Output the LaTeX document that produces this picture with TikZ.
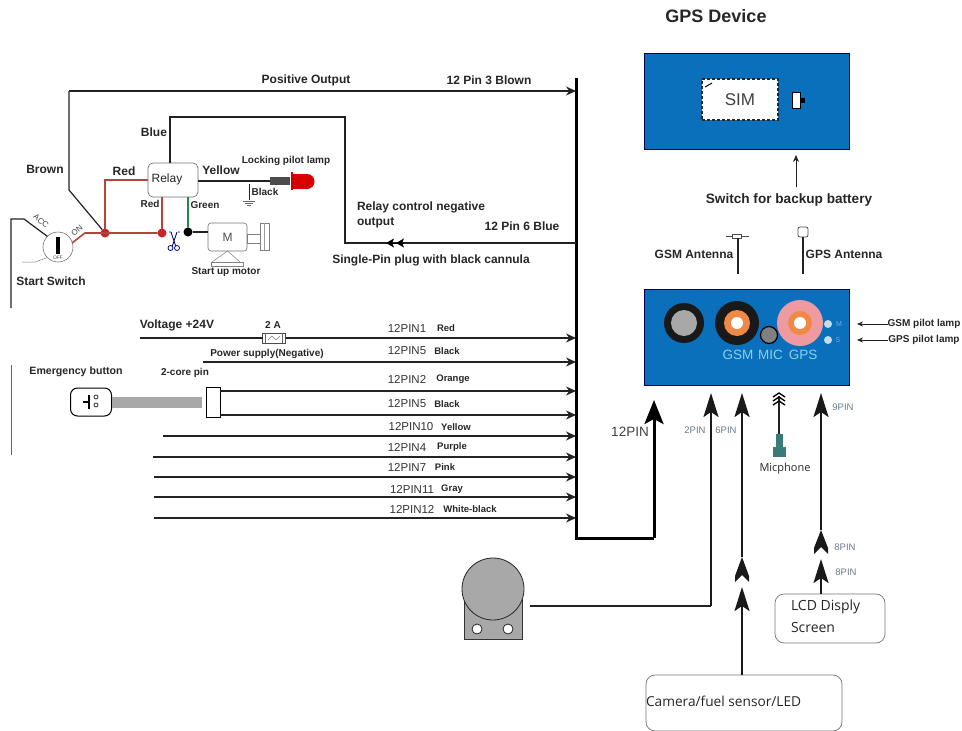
\documentclass[tikz,border=0pt]{standalone}
\usepackage{fontspec}
\setmainfont{Liberation Sans}
\newfontfamily\uifont{Open Sans}
\usetikzlibrary{arrows.meta,calc}
\definecolor{devblue}{HTML}{0A70BC}
\definecolor{wire}{HTML}{222222}
\definecolor{redwire}{HTML}{B5443A}
\definecolor{dotred}{HTML}{C8252B}
\definecolor{greenwire}{HTML}{1E8A4E}
\definecolor{midgray}{HTML}{A8A8A8}
\definecolor{pinkc}{HTML}{EF9AA0}
\definecolor{orangec}{HTML}{EE8A45}
\definecolor{ledc}{HTML}{C4DCEC}
\definecolor{cyantxt}{HTML}{8CD0E8}
\definecolor{pintxt}{HTML}{667C8C}
\definecolor{teal2}{HTML}{3A7A78}
\tikzset{
  every node/.style={inner sep=0pt,outer sep=0pt},
  lb/.style={font=\fontsize{12}{14}\selectfont\bfseries,text=black!85},
  lbs/.style={font=\fontsize{10}{12}\selectfont\bfseries,text=black!85},
  rowb/.style={font=\fontsize{9.5}{11}\selectfont\bfseries,text=black!85},
  pinl/.style={font=\fontsize{11.5}{13}\selectfont,text=black!80},
  pint/.style={font=\fontsize{9.5}{11}\selectfont,text=pintxt},
  wiret/.style={wire,line width=1.2pt},
  feed/.style={wire,line width=1.2pt,-{Stealth[length=10pt,width=9pt]}},
  bigup/.style={black!90,line width=2.2pt,-{Stealth[length=24pt,width=15pt,inset=5pt]}},
  devbox/.style={draw=black!70!blue,fill=devblue,line width=1pt,minimum width=205pt,minimum height=96pt},
  softbox/.style={draw=black!55,rounded corners=9pt,line width=.7pt},
  dot/.style={circle,minimum size=#1},
}
\begin{document}
\begin{tikzpicture}[x=1pt,y=-1pt]
\useasboundingbox (0,0) rectangle (962,731);
% ---- title and devices
\node[font=\fontsize{18}{20}\selectfont\bfseries,text=black!85] (title) at (716,16) {GPS Device};
\node[devbox] (top) at (746.5,101.5) {};
\node[draw=black!85,densely dashed,line width=1.3pt,fill=white,minimum width=76pt,minimum height=41pt,font=\fontsize{17}{20}\selectfont,text=black!75] (sim) at (740,99.5) {SIM};
\draw[black,line width=1pt] (705,87) -- (712,83);
\node[draw=black,fill=white,line width=.8pt,minimum width=8pt,minimum height=16pt] (sw) at (796,100) {};
\fill[black] (sw.east) ++(0,-2.5) rectangle ++(5,5);
\node[font=\fontsize{13.6}{16}\selectfont\bfseries,text=black!85] (swtxt) at (789,200) {Switch for backup battery};
\coordinate (swtail) at (796,187);
\draw[wire,line width=1pt,-{Stealth[length=7pt,width=6pt]}] (swtail) -- (swtail |- 0,155);
\node[devbox] (dev) at (746.5,337) {};
% connectors on device
\fill[black!90] (684,323) circle (20);
\fill[midgray] (684,323) circle (13);
\fill[black!90] (737,323) circle (22);
\fill[orangec] (737,323) circle (13);
\fill[white] (737,323) circle (6);
\fill[pinkc] (800,323) circle (23);
\fill[orangec] (800,323) circle (12);
\fill[white] (800,323) circle (6);
\draw[black,line width=1.2pt,fill=black!50] (769,335) circle (8.5);
\node[dot=8pt,fill=ledc] (ledm) at (828,324) {};
\node[dot=8pt,fill=ledc] (leds) at (828,340) {};
\node[font=\fontsize{7}{8}\selectfont,text=cyantxt!80!blue] (mt) at (839,324) {M};
\node[font=\fontsize{7}{8}\selectfont,text=cyantxt!80!blue] (st) at (838,340) {S};
\node[font=\fontsize{13.5}{15}\selectfont,text=cyantxt] (gsmt) at (738,355) {GSM};
\node[font=\fontsize{13.5}{15}\selectfont,text=cyantxt] (mict) at (770.5,355) {MIC};
\node[font=\fontsize{13.5}{15}\selectfont,text=cyantxt] (gpst) at (803,355) {GPS};
\node[lbs] (gsmlamp) at (924,324) {GSM pilot lamp};
\node[lbs] (gpslamp) at (924,340) {GPS pilot lamp};
\coordinate (gsmtip) at (857,324);
\coordinate (gpstip) at (857,340);
\draw[wire,line width=.7pt,{Stealth[length=6pt,width=5pt]}-] (gsmtip) -- (gsmlamp.west);
\draw[wire,line width=.7pt,{Stealth[length=6pt,width=5pt]}-] (gpstip) -- (gpslamp.west);
% antennas
\node[lb] (gsma) at (694,254) {GSM Antenna};
\node[lb] (gpsa) at (844,254) {GPS Antenna};
\node[draw=black!70,line width=.6pt,fill=white,minimum width=9pt,minimum height=4pt] (gsmant) at (737,236) {};
\draw[black!70,line width=1pt] (726,236) -- (gsmant.west) (gsmant.east) -- (749,236);
\coordinate (gsmb) at (738,274);
\draw[wire,line width=2pt] (gsmb |- gsmant.south) -- (gsmb);
\node[draw=black!70,line width=.8pt,fill=white,rounded corners=2pt,minimum width=10pt,minimum height=10pt] (gpsant) at (803,232) {};
\coordinate (gpsb) at (803,274);
\draw[wire,line width=2pt] (gpsant.south) -- (gpsb);
% ---- main bus
\coordinate (bustop) at (576,78);
\coordinate (buscorner) at (576,538);
\coordinate (bigtip) at (654,400);
\draw[black,line width=3pt] (bustop) -- (buscorner) -- (buscorner -| bigtip);
\draw[bigup,black,line width=3pt,-{Stealth[length=24pt,width=19pt,inset=5pt]}] (buscorner -| bigtip) -- (bigtip);
\node[font=\fontsize{13.5}{15}\selectfont,text=black!75] (pin12) at (630,432) {12PIN};
% ---- start switch and relay
\node[draw=black!55,circle,fill=white,minimum size=30pt,line width=.6pt] (sw1) at (58,247) {};
\fill[black] (56,237) rectangle (60,254);
\node[font=\fontsize{5}{6}\selectfont,text=black!70] (offt) at (58,258) {OFF};
\node[font=\fontsize{8}{9}\selectfont,text=black!75,rotate=-40] (acct) at (41,221) {ACC};
\node[font=\fontsize{8}{9}\selectfont,text=black!75,rotate=40] (ont) at (77,231) {ON};
\coordinate (acc1) at (11,308);
\coordinate (acc2) at (11,219);
\coordinate (acc3) at (24,219);
\draw[wire,line width=1.2pt] (acc1) -- (acc2) -- (acc3) -- (sw1.north west);
\coordinate (sl1) at (22,262);
\coordinate (sl2) at (35,262);
\draw[black!50,line width=.5pt] (sl1) -- (sl2) -- (sw1.south west);
\coordinate (leftrule1) at (11,365);
\coordinate (leftrule2) at (11,455);
\draw[black!60,line width=.6pt] (leftrule1) -- (leftrule2);
\node[lb] (start) at (51,281) {Start Switch};
\node[dot=9pt,fill=dotred] (j1) at (105,233) {};
\node[dot=9pt,fill=dotred] (j2) at (162,233) {};
\node[dot=9pt,fill=black] (j3) at (188,232) {};
\coordinate (on1) at (72,243);
\coordinate (on2) at (85,233);
\draw[redwire,line width=1.6pt] (on1) -- (on2) -- (j2);
\node[draw=black!55,fill=white,rounded corners=5pt,line width=.7pt,minimum width=50pt,minimum height=34pt] (relay) at (173,180) {};
\node[font=\fontsize{12}{14}\selectfont,text=black!85] (relayt) at (167,179) {Relay};
\draw[redwire,line width=1.4pt] (relay.west) -| (j1);
\draw[redwire,line width=1.6pt] (j2 |- relay.south) -- (j2);
\draw[greenwire,line width=1.4pt] (j3 |- relay.south) -- (j3);
% positive output
\coordinate (po1) at (69,190);
\coordinate (po2) at (69,91);
\draw[wire,line width=1.2pt] (j1) -- (po1) -- (po2);
\draw[feed] (po2) -- (po2 -| bustop);
\node[lb] (po) at (306,80) {Positive Output};
\node[lb] (p3) at (489,80) {12 Pin 3 Blown};
% blue
\coordinate (b1) at (170,117);
\coordinate (b2) at (345,117);
\coordinate (b3) at (345,243);
\coordinate (bar1) at (386,243);
\coordinate (bar2) at (396,243);
\draw[wire,line width=1.2pt] (b1 |- relay.north) -- (b1) -- (b2) -- (b3) -- (b3 -| bustop);
\draw[black,line width=1pt,-{Stealth[length=8pt,width=9pt,inset=2pt]}] (404,243) -- (bar2);
\draw[black,line width=1pt,-{Stealth[length=8pt,width=9pt,inset=2pt]}] (bar2) -- (bar1);
\node[lb] (bluet) at (154,132) {Blue};
\node[lb] (brown) at (45,169) {Brown};
\node[lb] (red1) at (124,171) {Red};
\node[lbs] (red2) at (150,204) {Red};
\node[lbs] (green) at (205,205) {Green};
\node[lb] (yellow) at (221,170) {Yellow};
\node[lbs] (lock) at (286,161) {Locking pilot lamp};
\node[lbs] (black) at (265,192) {Black};
\node[align=left,anchor=west,lb,font=\fontsize{12}{15}\selectfont\bfseries] (rc) at (357,214.5) {Relay control negative\\output};
\node[lb] (p6) at (522,226) {12 Pin 6 Blue};
\node[lb] (single) at (431,260) {Single-Pin plug with black cannula};
% lamp
\node[fill=black!70,minimum width=20pt,minimum height=8pt] (lampbody) at (280,181) {};
\draw[wire,line width=1.4pt] (relay.east |- lampbody) -- (lampbody.west);
\fill[red!80!black] (291,172) rectangle (293,190);
\fill[red!85!black] (293,174) rectangle (307,189);
\fill[red!85!black] (307,181.5) circle (7.5);
\coordinate (gnd) at (249,184);
\coordinate (gnd2) at (249,200);
\draw[wire,line width=.8pt] (gnd) -- (gnd2);
\draw[black!60,line width=.5pt] (243,201) -- (255,201) (245,203) -- (253,203) (247,205) -- (251,205);
% scissors
\draw[blue!45!black,line width=.8pt] (171,232) -- (176,247) (177,232) -- (172,247);
\draw[blue!45!black,line width=.8pt,fill=white] (170.5,248) circle (2.5) (177,248) circle (2.5);
\fill[black!70] (170,232) circle (.8) (179,232) circle (.8);
% motor
\node[draw=black!55,fill=white,rounded corners=3pt,line width=.6pt,minimum width=39pt,minimum height=28pt,font=\fontsize{12}{14}\selectfont,text=black!70] (motor) at (227.5,237) {M};
\draw[wire,line width=1.4pt] (j3) -- (motor.west |- j3);
\node[draw=black!50,line width=.5pt,minimum width=13pt,minimum height=9pt] (shaft) at (253.5,238.5) {};
\node[draw=black!50,line width=.5pt,minimum width=9pt,minimum height=27pt] (flange) at (264.5,236.5) {};
\draw[black!40,line width=.4pt] (264.5,223) -- (264.5,250);
\node[draw=black!50,line width=.5pt,minimum width=32pt,minimum height=4pt] (mbase) at (227,264) {};
\draw[black!50,line width=.5pt] (motor.south) -- (212,262) (motor.south) -- (240,262);
\node[lbs] (suptxt) at (226,272) {Start up motor};
% ---- left rows
\coordinate (r1) at (140,338);
\node[draw=black!70,line width=.8pt,minimum width=23pt,minimum height=10pt] (fuse) at (274,338) {};
\draw[black!60,line width=.4pt] (fuse.west) ++(3,-5) -- ++(0,10) (fuse.east) ++(-3,-5) -- ++(0,10);
\draw[black!50,line width=.4pt] (268,340) -- (272,336) -- (276,340) -- (280,336);
\draw[wiret] (r1) -- (fuse.west);
\draw[feed] (fuse.east) -- (fuse.east -| bustop);
\node[lb] (volt) at (177,325) {Voltage +24V};
\node[lbs] (twoa) at (273,325) {2 A};
\coordinate (r2) at (203,362);
\draw[feed] (r2) -- (r2 -| bustop);
\node[lbs] (neg) at (267,354) {Power supply(Negative)};
\node[font=\fontsize{10.6}{12}\selectfont\bfseries,text=black!85] (emerg) at (76,372) {Emergency button};
\node[lbs] (core) at (185,373) {2-core pin};
\node[draw=black,line width=1pt,rounded corners=7pt,fill=white,minimum width=41pt,minimum height=28pt] (btn) at (91,402) {};
\draw[black,line width=1.6pt] (83,402) -- (89,402) (89,395) -- (89,409);
\draw[black!80,line width=.8pt] (96,397) circle (2) (96,405) circle (2);
\node[draw=black,line width=1pt,fill=white,minimum width=14pt,minimum height=30pt] (pinb) at (213,402) {};
\path[fill=midgray] (btn.east |- 0,397) rectangle (202,408);
\coordinate (rb1) at (pinb.east |- 0,391);
\coordinate (rb2) at (pinb.east |- 0,415);
\draw[feed] (rb1) -- (rb1 -| bustop);
\draw[feed] (rb2) -- (rb2 -| bustop);
\coordinate (r5) at (163,436);
\coordinate (r6) at (153,457);
\coordinate (r7) at (154,477);
\coordinate (r8) at (154,497);
\coordinate (r9) at (154,518);
\foreach \r in {r5,r6,r7,r8,r9} \draw[feed] (\r) -- (\r -| bustop);
% row labels
\foreach \nm/\y/\a/\ax/\b/\bx in {
 la/328/12PIN1/407/Red/446,
 lb/351/12PIN5/407/Black/447,
 lc/379/12PIN2/407/Orange/453,
 ld/404/12PIN5/407/Black/447,
 le/427/12PIN10/411/Yellow/456,
 lf/447/12PIN4/407/Purple/452,
 lg/467/12PIN7/407/Pink/445,
 lh/489/12PIN11/412/Gray/452,
 li/509/12PIN12/412/White-black/470}
{ \node[pinl] (\nm a) at (\ax,\y) {\a}; \node[rowb] (\nm b) at (\bx,\y) {\b}; }
% ---- sensor
\fill[midgray] (464,595) rectangle (522,639);
\draw[black!80,line width=.7pt] (464,595) -- (464,639) -- (522,639) -- (522,595);
\node[draw=black!85,circle,fill=midgray,line width=.8pt,minimum size=62pt] (sensor) at (493,589) {};
\node[draw=black!85,circle,fill=white,line width=.8pt,minimum size=10pt] (h1) at (477,629) {};
\node[draw=black!85,circle,fill=white,line width=.8pt,minimum size=10pt] (h2) at (508,629) {};
\coordinate (s1) at (530,606);
\coordinate (s2) at (711,606);
\coordinate (tip2) at (711,393);
\draw[wire,line width=1.2pt] (s1) -- (s2);
\draw[bigup] (s2) -- (tip2);
% ---- 6PIN
\node[softbox,minimum width=196pt,minimum height=56pt] (cam) at (744,703) {};
\node[anchor=west,font=\fontsize{13.7}{16}\selectfont\uifont,text=black!85] (camt) at (646,701) {Camera/fuel sensor/LED};
\coordinate (t61) at (742,393);
\coordinate (t62) at (742,557);
\coordinate (t63) at (742,587);
\draw[bigup] (t62) -- (t61);
\draw[bigup] (cam.north -| t63) -- (t63);
\fill[black!90] (742,557) -- (749,576) -- (749,582) -- (742,575) -- (735,582) -- (735,576) -- cycle;
\node[pint] (t2) at (695,430) {2PIN};
\node[pint] (t6) at (726,430) {6PIN};
% ---- 9PIN
\node[softbox,minimum width=110pt,minimum height=49pt] (lcd) at (830,618.5) {};
\node[anchor=west,align=left,font=\fontsize{14}{22}\selectfont\uifont,text=black!85] (lcdt) at (791,616) {LCD Disply\\Screen};
\coordinate (t91) at (821,393);
\coordinate (t92) at (821,530);
\coordinate (t93) at (821,559);
\draw[bigup] (t92) -- (t91);
\draw[bigup] (lcd.north -| t93) -- (t93);
\fill[black!90] (821,530) -- (828,548) -- (828,554) -- (821,547) -- (814,554) -- (814,548) -- cycle;
\node[pint] (t9) at (843,407) {9PIN};
\node[pint] (t81) at (845,547) {8PIN};
\node[pint] (t82) at (846,572) {8PIN};
% ---- mic
\coordinate (m1) at (779,396);
\node[fill=teal2,minimum width=7pt,minimum height=14pt] (mic1) at (779,441) {};
\node[fill=teal2,minimum width=13pt,minimum height=10pt] (mic2) at (779,452) {};
\draw[wire,line width=1.4pt] (m1) -- (mic1.north);
\draw[black,line width=1.3pt] (773,397) -- (779,393) -- (785,397) (773,401) -- (779,397) -- (785,401) (773,405) -- (779,401) -- (785,405);
\node[font=\fontsize{11}{13}\selectfont\uifont,text=black!85] (mict2) at (785,469) {Micphone};
\end{tikzpicture}
\end{document}
